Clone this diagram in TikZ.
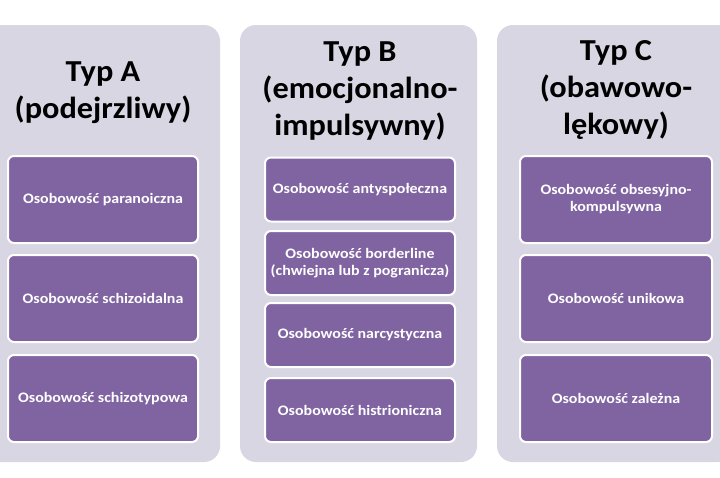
\documentclass[tikz,border=0pt]{standalone}
\usepackage{fontspec}
\setmainfont{Carlito}
\newfontfamily\boxfont[FakeStretch=1.1]{Carlito}
\newfontfamily\titlefont[FakeStretch=1.06]{Carlito}
\definecolor{panelbg}{HTML}{D9D6E3}
\definecolor{boxfill}{HTML}{8064A2}
\begin{document}
\begin{tikzpicture}[x=1pt,y=-1pt,
  panel/.style={fill=panelbg, rounded corners=16pt},
  item/.style={draw=white, line width=2pt, fill=boxfill, rounded corners=6pt,
    text=white, font=\boxfont\bfseries\fontsize{14.5}{17}\selectfont, align=center,
    minimum width=190pt, inner sep=2pt},
  itemtall/.style={item, minimum height=87pt},
  itemshort/.style={item, minimum height=64pt},
  title/.style={font=\titlefont\bfseries\fontsize{30.5}{37}\selectfont, align=center, inner sep=0pt}]
\useasboundingbox (0,0) rectangle (720,477);
\fill[white] (0,0) rectangle (720,477);
\begin{scope}
\clip (0,0) rectangle (720,477);
\fill[panel] (-17,25) rectangle (220,462);
\fill[panel] (240,25) rectangle (477,462);
\fill[panel] (497,25) rectangle (734,462);
\end{scope}

% Column A
\node[title] (tA) at (103,93) {Typ A\\(podejrzliwy)};
\node[itemtall] (a1) at (103,199.5) {Osobowość paranoiczna};
\node[itemtall] (a2) at (103,298.5) {Osobowość schizoidalna};
\node[itemtall] (a3) at (103,398.5) {Osobowość schizotypowa};

% Column B
\node[title] (tB) at (360,91) {Typ B\\(emocjonalno-\\impulsywny)};
\node[itemshort] (b1) at (360,189.5) {Osobowość antyspołeczna};
\node[itemshort] (b2) at (360,263) {Osobowość borderline\\(chwiejna lub z pogranicza)};
\node[itemshort] (b3) at (360,335) {Osobowość narcystyczna};
\node[itemshort] (b4) at (360,410) {Osobowość histrioniczna};

% Column C
\node[title] (tC) at (616,90) {Typ C\\(obawowo-\\lękowy)};
\node[itemtall, minimum width=192pt] (c1) at (616,199.5) {Osobowość obsesyjno-\\kompulsywna};
\node[itemtall, minimum width=192pt] (c2) at (616,298.5) {Osobowość unikowa};
\node[itemtall, minimum width=192pt] (c3) at (616,398.5) {Osobowość zależna};
\end{tikzpicture}
\end{document}
